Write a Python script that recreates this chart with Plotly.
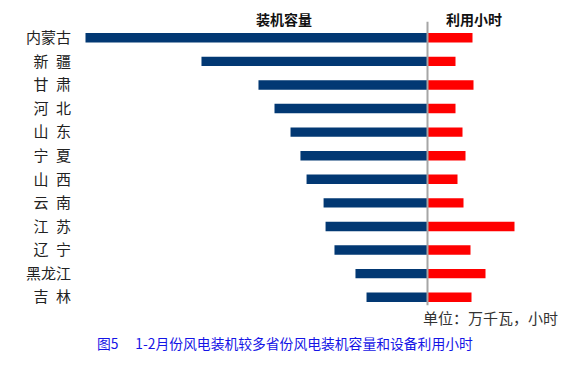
import plotly.graph_objects as go

provinces = ["内蒙古", "新\u2002疆", "甘\u2002肃", "河\u2002北", "山\u2002东", "宁\u2002夏",
             "山\u2002西", "云\u2002南", "江\u2002苏", "辽\u2002宁", "黑龙江", "吉\u2002林"]
capacity = [2070, 1368, 1023, 926, 829, 769, 732, 629, 617, 563, 436, 369]   # 万千瓦 (estimated)
hours = [180, 112, 184, 112, 140, 152, 120, 144, 348, 172, 232, 176]         # 小时 (estimated)

OFF = 8                      # page body margin
W, H = 570 - 2 * OFF, 367 - 2 * OFF
# page-pixel geometry
plot_left, plot_right = 80, 560
plot_top, plot_bottom = 26.2, 308.8
L = plot_left - OFF
R = (OFF + W) - plot_right
T = plot_top - OFF
B = (OFF + H) - plot_bottom
plot_w = plot_right - plot_left
plot_h = plot_bottom - plot_top
center_px = 427.5
split = (center_px - plot_left) / plot_w
left_px = center_px - plot_left
right_px = plot_right - center_px
cap_per_px = capacity[0] / 342.0
hrs_per_px = 4.0

navy = "#023873"
red = "#FF0000"
font_cjk = "Noto Sans CJK SC, Noto Sans CJK JP, sans-serif"


def px_x(x):
    return (x - plot_left) / plot_w


def px_y(y):
    return (plot_bottom - y) / plot_h


fig = go.Figure()
fig.add_trace(go.Bar(y=provinces, x=capacity, orientation="h", marker_color=navy,
                     marker_line_width=0, width=0.4, xaxis="x", yaxis="y", showlegend=False))
fig.add_trace(go.Bar(y=provinces, x=hours, orientation="h", marker_color=red,
                     marker_line_width=0, width=0.4, xaxis="x2", yaxis="y", showlegend=False))

fig.update_layout(
    width=W, height=H,
    margin=dict(l=L, r=R, t=T, b=B, pad=0),
    paper_bgcolor="white", plot_bgcolor="white",
    font=dict(family=font_cjk, color="#222222"),
    xaxis=dict(domain=[0, split], range=[left_px * cap_per_px, 0], visible=False),
    xaxis2=dict(domain=[split, 1], range=[0, right_px * hrs_per_px], visible=False, anchor="y"),
    yaxis=dict(categoryorder="array", categoryarray=provinces, autorange="reversed",
               showgrid=False, zeroline=False, showline=False, ticks="",
               tickfont=dict(size=15, color="#222222", family=font_cjk),
               ticklabelstandoff=8),
    shapes=[dict(type="line", xref="paper", yref="paper", x0=split, x1=split,
                 y0=px_y(305), y1=px_y(22), line=dict(color="#A6A6A6", width=2))],
    annotations=[
        dict(text="<b>装机容量</b>", x=px_x(284), y=px_y(19), xanchor="center", yanchor="middle",
             font=dict(size=14, color="#111111")),
        dict(text="<b>利用小时</b>", x=px_x(474), y=px_y(19), xanchor="center", yanchor="middle",
             font=dict(size=14, color="#111111")),
        dict(text="单位：万千瓦，小时", x=px_x(560), y=px_y(317), xanchor="right", yanchor="middle",
             font=dict(size=15, color="#333333")),
        dict(text="图5\u2003 1-2月份风电装机较多省份风电装机容量和设备利用小时", x=px_x(95), y=px_y(343),
             xanchor="left", yanchor="middle", font=dict(size=13.8, color="#1414E6")),
    ],
)
for a in fig.layout.annotations:
    a.xref = "paper"
    a.yref = "paper"
    a.showarrow = False

fig.write_html("out.html")
